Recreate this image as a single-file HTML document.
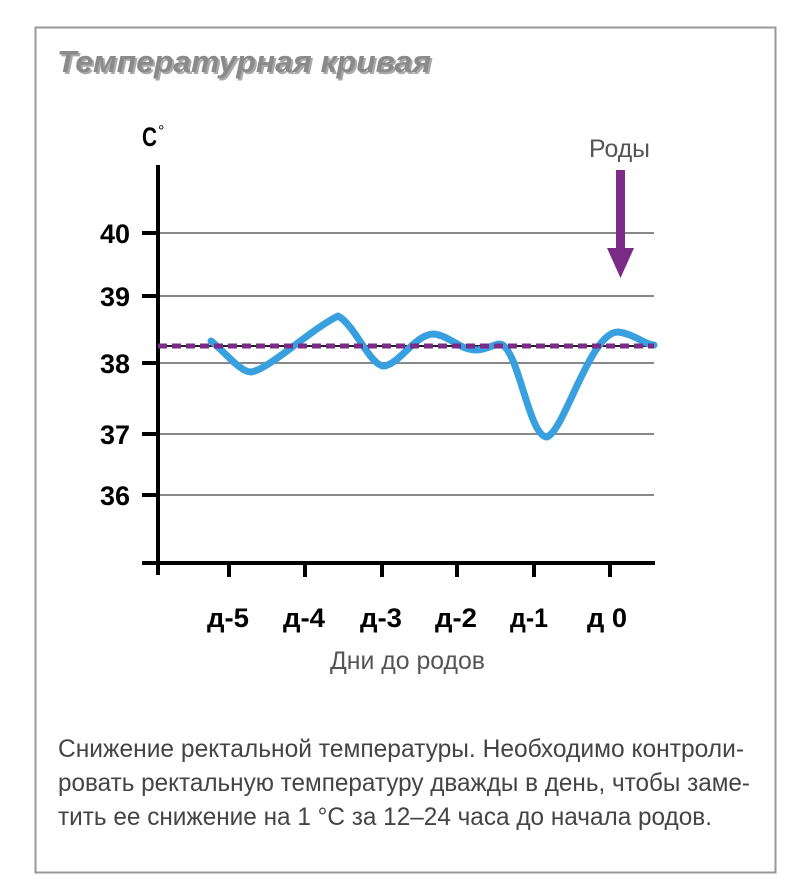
<!DOCTYPE html>
<html><head><meta charset="utf-8"><style>
body{margin:0;background:#fff;width:809px;height:895px;overflow:hidden}
svg{display:block}
</style></head><body>
<svg width="809" height="895" xmlns="http://www.w3.org/2000/svg">
<rect x="35.5" y="27.5" width="740" height="845" fill="#fff" stroke="#999" stroke-width="2"/>
<text x="59" y="74" textLength="374" lengthAdjust="spacingAndGlyphs" font-family="Liberation Sans, sans-serif" font-size="31" font-weight="bold" font-style="italic" fill="#555" opacity="0.5">Температурная кривая</text>
<text x="57" y="72" textLength="374" lengthAdjust="spacingAndGlyphs" font-family="Liberation Sans, sans-serif" font-size="31" font-weight="bold" font-style="italic" fill="#8a8a8a">Температурная кривая</text>
<text x="142" y="146" textLength="15" lengthAdjust="spacingAndGlyphs" font-family="Liberation Sans, sans-serif" font-size="27" font-weight="bold" fill="#000">C</text>
<text x="158" y="136" font-family="Liberation Sans, sans-serif" font-size="16" fill="#000">°</text>
<g stroke="#888" stroke-width="2">
<line x1="158" y1="233" x2="654" y2="233"/>
<line x1="158" y1="296" x2="654" y2="296"/>
<line x1="158" y1="363" x2="654" y2="363"/>
<line x1="158" y1="434" x2="654" y2="434"/>
<line x1="158" y1="495" x2="654" y2="495"/>
</g>
<line x1="158" y1="346" x2="654" y2="346" stroke="#222" stroke-width="2"/>
<g stroke="#000" stroke-width="4">
<line x1="158" y1="165" x2="158" y2="575"/>
<line x1="142" y1="563" x2="655" y2="563"/>
<line x1="142" y1="233" x2="158" y2="233"/>
<line x1="142" y1="296" x2="158" y2="296"/>
<line x1="142" y1="363" x2="158" y2="363"/>
<line x1="142" y1="434" x2="158" y2="434"/>
<line x1="142" y1="495" x2="158" y2="495"/>
<line x1="229" y1="563" x2="229" y2="577"/>
<line x1="305" y1="563" x2="305" y2="577"/>
<line x1="382" y1="563" x2="382" y2="577"/>
<line x1="457" y1="563" x2="457" y2="577"/>
<line x1="534" y1="563" x2="534" y2="577"/>
<line x1="610" y1="563" x2="610" y2="577"/>
</g>
<g font-family="Liberation Sans, sans-serif" font-size="27" font-weight="bold" fill="#000">
<text x="100" y="243" textLength="30" lengthAdjust="spacingAndGlyphs">40</text>
<text x="100" y="306" textLength="30" lengthAdjust="spacingAndGlyphs">39</text>
<text x="100" y="373" textLength="30" lengthAdjust="spacingAndGlyphs">38</text>
<text x="100" y="444" textLength="30" lengthAdjust="spacingAndGlyphs">37</text>
<text x="100" y="505" textLength="30" lengthAdjust="spacingAndGlyphs">36</text>
</g>
<g font-family="Liberation Sans, sans-serif" font-size="27" font-weight="bold" fill="#000">
<text x="207" y="627" textLength="42" lengthAdjust="spacingAndGlyphs">д-5</text>
<text x="283" y="627" textLength="42" lengthAdjust="spacingAndGlyphs">д-4</text>
<text x="360" y="627" textLength="42" lengthAdjust="spacingAndGlyphs">д-3</text>
<text x="435" y="627" textLength="42" lengthAdjust="spacingAndGlyphs">д-2</text>
<text x="510" y="627" textLength="38" lengthAdjust="spacingAndGlyphs">д-1</text>
<text x="587" y="627" textLength="40" lengthAdjust="spacingAndGlyphs">д 0</text>
</g>
<text x="330" y="669" textLength="155" lengthAdjust="spacingAndGlyphs" font-family="Liberation Sans, sans-serif" font-size="25" fill="#555">Дни до родов</text>
<path d="M211,341 C225,352 240,372 251,372 C268,370 310,330 338,316 C355,325 370,366 384,366 C400,364 415,334 434,334 C450,336 460,350 476,350 C490,350 498,340 504,346 C520,360 530,437 547,437 C565,430 590,332 618,332 C635,334 645,345 654,345" fill="none" stroke="#39a0e0" stroke-width="7" stroke-linecap="round" stroke-linejoin="round"/>
<line x1="158" y1="346" x2="654" y2="346" stroke="#7b2a87" stroke-width="5" stroke-dasharray="9,5"/>
<text x="589" y="157" textLength="61" lengthAdjust="spacingAndGlyphs" font-family="Liberation Sans, sans-serif" font-size="25" fill="#555">Роды</text>
<rect x="616" y="170" width="9" height="82" fill="#7b2a87"/>
<polygon points="607,248 634,248 620.5,278" fill="#7b2a87"/>
<g font-family="Liberation Sans, sans-serif" font-size="25" fill="#444">
<text x="58" y="757" textLength="686" lengthAdjust="spacingAndGlyphs">Снижение ректальной температуры. Необходимо контроли-</text>
<text x="58" y="791" textLength="692" lengthAdjust="spacingAndGlyphs">ровать ректальную температуру дважды в день, чтобы заме-</text>
<text x="58" y="825" textLength="654" lengthAdjust="spacingAndGlyphs">тить ее снижение на 1 °C за 12–24 часа до начала родов.</text>
</g>
</svg>
</body></html>
